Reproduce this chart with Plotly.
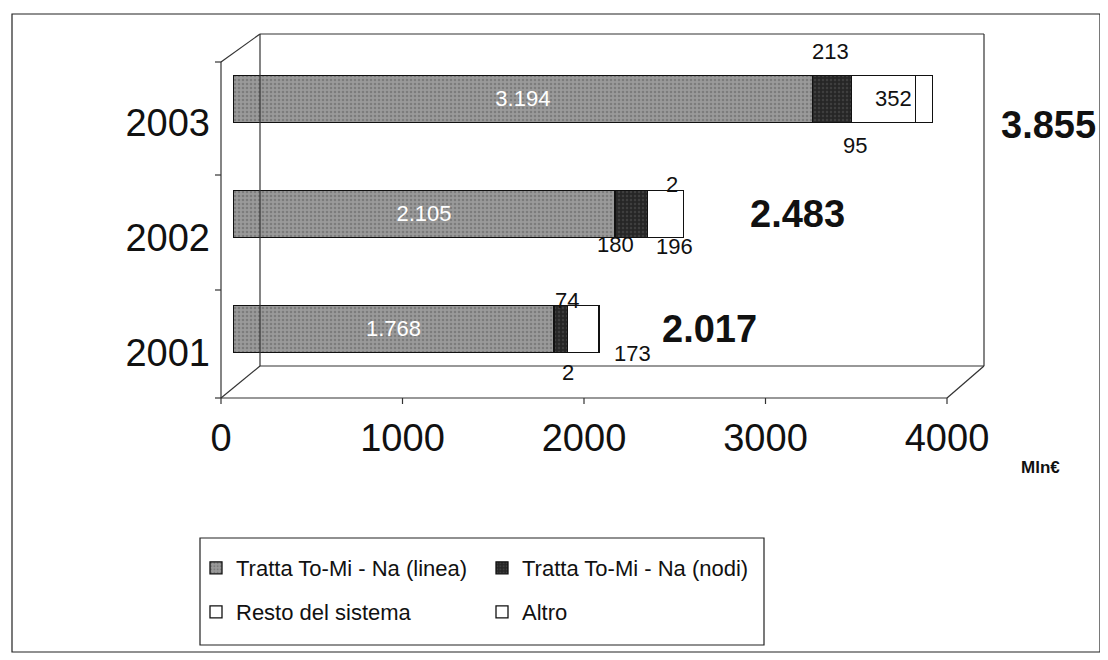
import plotly.graph_objects as go

# ---------------- data ----------------
years = ["2001", "2002", "2003"]
linea = [1768, 2105, 3194]
nodi = [74, 180, 213]
resto = [173, 196, 352]
altro = [2, 2, 95]
totals = [2017, 2483, 3855]
series_names = ["Tratta To-Mi - Na (linea)", "Tratta To-Mi - Na (nodi)",
                "Resto del sistema", "Altro"]
x_ticks = [0, 1000, 2000, 3000, 4000]
unit_label = "Mln€"

# ---------------- geometry / style ----------------
OFF = 8                                  # page body margin
W, H = 1108 - OFF, 660 - OFF
L, R, T, B = 233, 959, 34, 398          # plot area in screen pixels
FONT = "Liberation Sans, Arial, sans-serif"


def px(x):
    return (x - L) / (R - L)


def py(y):
    return (B - y) / (B - T)


fig = go.Figure()

fig.add_trace(go.Bar(
    y=years, x=linea, orientation="h", name=series_names[0],
    marker=dict(color="#8e8e8e", line=dict(color="#111", width=1.3),
                pattern=dict(shape=".", fgcolor="#5e5e5e", bgcolor="#9a9a9a",
                             size=4, solidity=0.35)),
    texttemplate="%{x:,}", textposition="inside", insidetextanchor="middle",
    textfont=dict(color="white", size=22, family=FONT), textangle=0,
    legend="legend",
))
fig.add_trace(go.Bar(
    y=years, x=nodi, orientation="h", name=series_names[1],
    marker=dict(color="#2a2a2a", line=dict(color="#111", width=1.3),
                pattern=dict(shape=".", fgcolor="#555", bgcolor="#262626",
                             size=4, solidity=0.3)),
    legend="legend",
))
fig.add_trace(go.Bar(
    y=years, x=resto, orientation="h", name=series_names[2],
    marker=dict(color="white", line=dict(color="#111", width=1.3)),
    legend="legend2",
))
fig.add_trace(go.Bar(
    y=years, x=altro, orientation="h", name=series_names[3],
    marker=dict(color="white", line=dict(color="#111", width=1.3)),
    legend="legend2",
))


def fmt(v):
    return f"{v:,}".replace(",", ".")


annotations = []
# segment labels (offsets in pixels are styling only)
seg_offsets = {
    1: [(6, 29), (-16, -31), (-2, 47)],
    2: [(49, -24), (9, -33), (10, 0)],
    3: [(-31, -43), (-11, 29), (-69, -47)],
}
series = [linea, nodi, resto, altro]
for si in (1, 2, 3):
    for yi, yr in enumerate(years):
        start = sum(series[k][yi] for k in range(si))
        mid = start + series[si][yi] / 2
        dx, dy = seg_offsets[si][yi]
        annotations.append(dict(
            x=mid, y=yi, xref="x", yref="y", text=fmt(series[si][yi]),
            showarrow=False, xshift=dx, yshift=dy,
            font=dict(size=22, color="#111", family=FONT),
        ))

tot_offsets = [(61, 0), (64, 0), (66, -26)]
for yi, yr in enumerate(years):
    dx, dy = tot_offsets[yi]
    annotations.append(dict(
        x=totals[yi], y=yi, xref="x", yref="y", text=f"<b>{fmt(totals[yi])}</b>",
        showarrow=False, xanchor="left", xshift=dx, yshift=dy,
        font=dict(size=38, color="#111", family=FONT),
    ))

annotations.append(dict(
    x=px(1062), y=py(479), xref="paper", yref="paper", text=f"<b>{unit_label}</b>",
    showarrow=False, font=dict(size=17, color="#111", family=FONT),
))

# 3D frame (walls / floor) and borders
line_style = dict(color="#333", width=1.2)
frame = [
    ((260, 366), (260, 34)), ((260, 34), (984, 34)), ((984, 34), (984, 366)),
    ((260, 366), (984, 366)),
    ((221, 62), (221, 398)), ((221, 62), (260, 34)), ((221, 398), (260, 366)),
    ((221, 398), (947, 398)), ((947, 398), (984, 366)),
]
shapes = []
for (x0, y0), (x1, y1) in frame:
    shapes.append(dict(type="line", xref="paper", yref="paper",
                       x0=px(x0), y0=py(y0), x1=px(x1), y1=py(y1), line=line_style))
# small ticks on front floor and front wall
for k in range(5):
    xx = 221 + k * 181.5
    shapes.append(dict(type="line", xref="paper", yref="paper",
                       x0=px(xx), y0=py(398), x1=px(xx), y1=py(404), line=line_style))
for yy in (62, 175, 290, 398):
    shapes.append(dict(type="line", xref="paper", yref="paper",
                       x0=px(215), y0=py(yy), x1=px(221), y1=py(yy), line=line_style))
# legend box
shapes.append(dict(type="rect", xref="paper", yref="paper",
                   x0=px(200), y0=py(538), x1=px(764), y1=py(645),
                   line=dict(color="#222", width=1.2)))
# outer border
shapes.append(dict(type="rect", xref="paper", yref="paper",
                   x0=px(12), y0=py(14), x1=px(1100), y1=py(652),
                   line=dict(color="#222", width=1.2)))

legend_common = dict(orientation="h", xanchor="left", yanchor="middle",
                     traceorder="normal",
                     font=dict(size=22, color="#111", family=FONT),
                     bgcolor="rgba(0,0,0,0)", entrywidth=241, entrywidthmode="pixels",
                     itemclick=False, itemdoubleclick=False)

fig.update_layout(
    width=W, height=H,
    margin=dict(l=L - OFF, r=(W + OFF) - R, t=T - OFF, b=(H + OFF) - B, pad=0),
    paper_bgcolor="white", plot_bgcolor="white",
    barmode="stack", bargap=0.59,
    separators=",.",
    font=dict(family=FONT, color="#111"),
    xaxis=dict(range=[0, 4000], tickvals=x_ticks, ticktext=[str(v) for v in x_ticks],
               showgrid=False, zeroline=False, showline=False, ticks="",
               tickfont=dict(size=38, family=FONT, color="#111"),
               ticklabelshift=-12, ticklabelstandoff=14, fixedrange=True),
    yaxis=dict(type="category", categoryorder="array", categoryarray=years,
               range=[-0.6, 2.565], showgrid=False, zeroline=False, showline=False,
               ticks="", tickfont=dict(size=38, family=FONT, color="#111"),
               ticklabelshift=24, ticklabelstandoff=22, fixedrange=True),
    legend=dict(x=px(196), y=py(568), **legend_common),
    legend2=dict(x=px(196), y=py(612), **legend_common),
    annotations=annotations,
    shapes=shapes,
    showlegend=True,
)

fig.write_html("out.html")
